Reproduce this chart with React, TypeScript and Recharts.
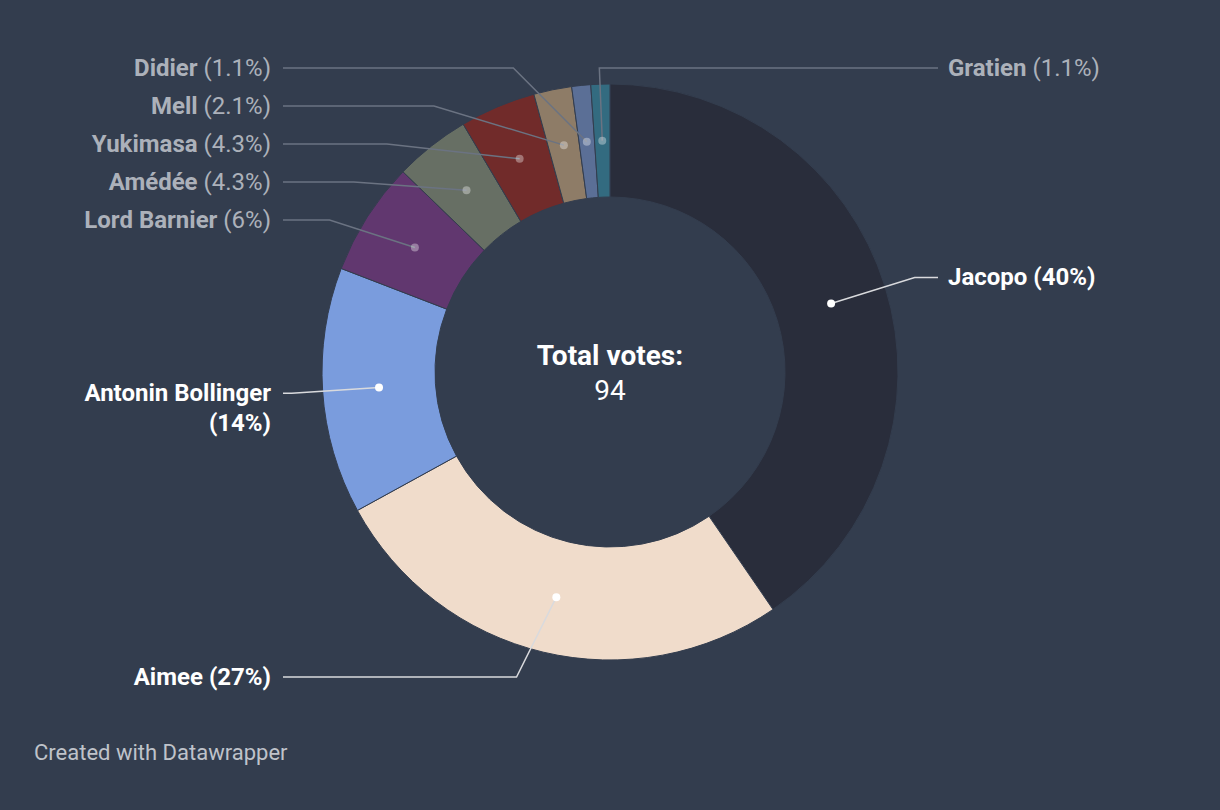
import { PieChart, Pie, Cell, Label } from "recharts";

const names = [
  "Jacopo",
  "Aimee",
  "Antonin Bollinger",
  "Lord Barnier",
  "Amédée",
  "Yukimasa",
  "Mell",
  "Didier",
  "Gratien",
];
const votes = [38, 25, 13, 6, 4, 4, 2, 1, 1];
const colors = [
  "#292d3b",
  "#f0dccb",
  "#7a9cdd",
  "#61376f",
  "#676f64",
  "#712b2a",
  "#8e7c67",
  "#5b6f96",
  "#336b80",
];
const centerTitle = "Total votes:";
const footer = "Created with Datawrapper";

const BG = "#333d4e";
const W = 1220;
const H = 810;
const CX = 610;
const CY = 372;
const INNER = 175;
const OUTER = 288;
const LABEL_R = OUTER + 31;
const SPACING = 38;
const FONT = "Roboto, 'Noto Sans', sans-serif";
const RAD = Math.PI / 180;

const total = votes.reduce((a, b) => a + b, 0);
const data = names.map((name, i) => ({ name, value: votes[i] }));

function fmtPct(p: number) {
  const v = p * 100;
  return v >= 5 ? `${Math.round(v)}%` : `${v.toFixed(1)}%`;
}

type Slot = { side: "left" | "right"; y: number; natX: number };

// label placement: natural position on the label circle, then pushed apart per side
function layoutLabels(): Slot[] {
  let acc = 0;
  const items = votes.map((v, i) => {
    const theta = ((acc + v / 2) / total) * 360;
    acc += v;
    const s = Math.sin(theta * RAD);
    const c = Math.cos(theta * RAD);
    return {
      i,
      side: (s >= -0.05 ? "right" : "left") as "left" | "right",
      y: CY - LABEL_R * c,
      natX: CX + LABEL_R * s,
    };
  });
  const top = CY - 304;
  const bottom = CY + 305;
  const out: Slot[] = [];
  (["left", "right"] as const).forEach((side) => {
    const list = items.filter((d) => d.side === side).sort((a, b) => a.y - b.y);
    let prev = -Infinity;
    list.forEach((d) => {
      let y = Math.max(d.y, prev + SPACING, top);
      y = Math.min(y, bottom);
      prev = y;
      out[d.i] = { side, y, natX: d.natX };
    });
  });
  return out;
}

const slots = layoutLabels();

// eslint-disable-next-line @typescript-eslint/no-explicit-any
function renderLabel(props: any) {
  const { cx, cy, midAngle, innerRadius, outerRadius, index, percent } = props;
  const slot = slots[index];
  const r = (innerRadius + outerRadius) / 2;
  const dx = cx + r * Math.cos(-midAngle * RAD);
  const dy = cy + r * Math.sin(-midAngle * RAD);
  const small = percent < 0.1;
  const right = slot.side === "right";
  const offY = slot.y - cy;
  const span = Math.sqrt(Math.max(0, LABEL_R * LABEL_R - offY * offY));
  let ex = right ? cx + span : cx - span;
  if ((right && dx < cx) || (!right && dx > cx)) ex = slot.natX;
  const lineEnd = right ? cx + 328 : cx - 327;
  const textX = right ? cx + 338 : cx - 339;
  const textColor = small ? "#acb1ba" : "#ffffff";
  const lineColor = small ? "#6b7382" : "#d9dadd";
  const pct = `(${fmtPct(percent)})`;
  const wrap = names[index].length + pct.length > 20;
  return (
    <g key={`lbl-${index}`}>
      <polyline
        points={`${dx},${dy} ${ex},${slot.y} ${lineEnd},${slot.y}`}
        fill="none"
        stroke={lineColor}
        strokeWidth={1.5}
      />
      <circle
        cx={dx}
        cy={dy}
        r={4}
        fill="#ffffff"
        fillOpacity={small ? 0.35 : 1}
      />
      <text
        x={textX}
        y={slot.y}
        textAnchor={right ? "start" : "end"}
        dominantBaseline="central"
        fontFamily={FONT}
        fontSize={24}
        fill={textColor}
      >
        <tspan fontWeight={700}>{names[index]}</tspan>
        {wrap ? (
          <tspan x={textX} dy={30} fontWeight={700}>
            {pct}
          </tspan>
        ) : (
          <tspan fontWeight={small ? 400 : 700}> {pct}</tspan>
        )}
      </text>
    </g>
  );
}

// eslint-disable-next-line @typescript-eslint/no-explicit-any
function CenterText({ viewBox }: any) {
  const cx = viewBox?.cx ?? CX;
  const cy = viewBox?.cy ?? CY;
  return (
    <g>
      <text
        x={cx}
        y={cy - 17}
        textAnchor="middle"
        dominantBaseline="central"
        fontFamily={FONT}
        fontSize={28}
        fontWeight={700}
        fill="#ffffff"
      >
        {centerTitle}
      </text>
      <text
        x={cx}
        y={cy + 18}
        textAnchor="middle"
        dominantBaseline="central"
        fontFamily={FONT}
        fontSize={28}
        fill="#ffffff"
      >
        {total}
      </text>
    </g>
  );
}

export default function App() {
  return (
    <div
      style={{
        position: "absolute",
        left: 0,
        top: 0,
        width: W,
        height: H,
        background: BG,
        overflow: "hidden",
      }}
    >
      <PieChart width={W} height={H} margin={{ top: 0, right: 0, bottom: 0, left: 0 }}>
        <Pie
          data={data}
          dataKey="value"
          nameKey="name"
          cx={CX}
          cy={CY}
          innerRadius={INNER}
          outerRadius={OUTER}
          startAngle={90}
          endAngle={-270}
          stroke={BG}
          strokeWidth={1}
          label={renderLabel}
          labelLine={false}
          isAnimationActive={false}
        >
          {data.map((d, i) => (
            <Cell key={d.name} fill={colors[i]} />
          ))}
          <Label position="center" content={<CenterText />} />
        </Pie>
      </PieChart>
      <div
        style={{
          position: "absolute",
          left: 34,
          top: 740,
          fontFamily: FONT,
          fontSize: 22,
          color: "#bfc3ca",
        }}
      >
        {footer}
      </div>
    </div>
  );
}
